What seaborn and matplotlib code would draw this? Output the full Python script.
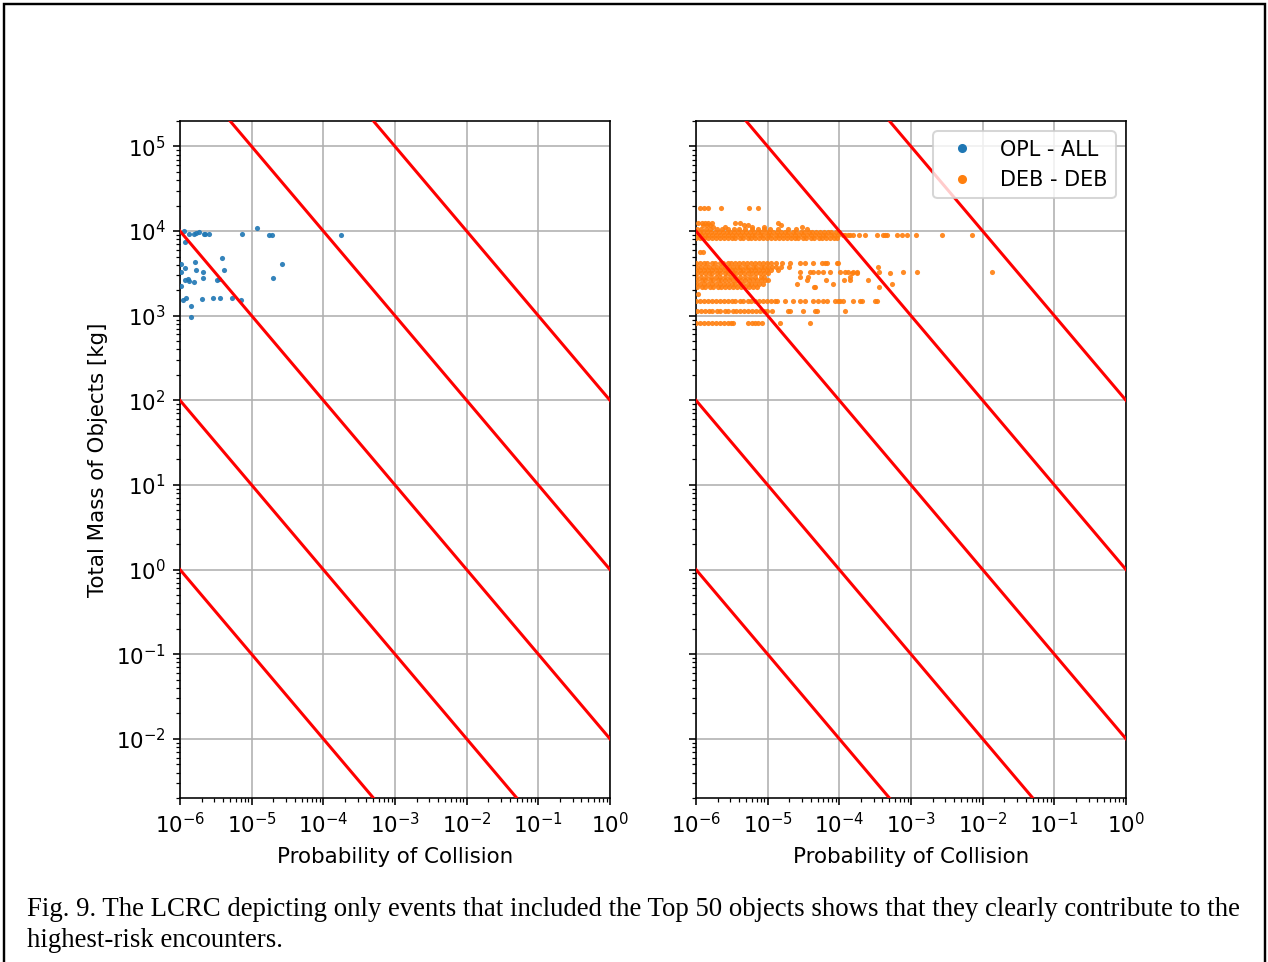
import matplotlib
matplotlib.use("Agg")
import numpy as np
import pandas as pd
import matplotlib.pyplot as plt
import seaborn as sns
from matplotlib.lines import Line2D
from matplotlib.patches import Rectangle

# ---------------- data (log10 values) ----------------
# OPL - ALL : log10 probability of collision / log10 total mass [kg]
opl_log_p = [-4.92, -5.95, -5.88, -5.81, -5.78, -5.74, -5.66, -5.65, -5.59, -5.13,
             -4.76, -4.72, -3.76, -5.93, -5.98, -5.79, -5.41, -4.57, -5.98, -5.93,
             -5.77, -5.68, -5.38, -5.68, -4.70, -5.93, -5.89, -5.87, -5.81, -5.49,
             -5.46, -5.98, -5.96, -5.91, -5.70, -5.54, -5.44, -5.27, -5.15, -5.85, -5.85]
opl_log_m = [4.04, 4.00, 3.97, 3.97, 3.98, 3.99, 3.97, 3.97, 3.96, 3.97,
             3.95, 3.95, 3.95, 3.87, 3.61, 3.63, 3.68, 3.61, 3.52, 3.56,
             3.54, 3.52, 3.54, 3.45, 3.44, 3.42, 3.43, 3.41, 3.40, 3.42,
             3.43, 3.35, 3.19, 3.21, 3.20, 3.21, 3.21, 3.21, 3.19, 3.11, 2.99]

# DEB - DEB : events come in mass rows; each row is one log10 mass level
deb_row_log_m = [4.27, 4.10, 4.07, 4.05, 4.02, 3.99, 3.95, 3.92, 3.75,
                 3.62, 3.58, 3.54, 3.52, 3.50, 3.46, 3.42, 3.38, 3.34, 3.26,
                 3.17, 3.05, 2.91]
deb_row_log_p = [
    [-5.94, -5.89, -5.83, -5.65, -5.26, -5.14],
    [-5.97, -5.92, -5.87, -5.83, -5.78, -5.46, -5.39, -4.86],
    [-5.90, -5.85, -5.81, -5.33, -5.27, -4.81],
    [-5.76, -5.60, -5.22, -5.05, -4.52],
    [-5.99, -5.93, -5.86, -5.80, -5.71, -5.64, -5.55, -5.47, -5.40, -5.31, -5.22, -5.13,
     -5.05, -4.97, -4.85, -4.72, -4.60, -4.45],
    [-6.00, -5.95, -5.90, -5.84, -5.79, -5.74, -5.68, -5.63, -5.57, -5.52, -5.47, -5.41,
     -5.36, -5.30, -5.25, -5.19, -5.14, -5.09, -5.03, -4.98, -4.92, -4.87, -4.81, -4.76,
     -4.71, -4.65, -4.60, -4.54, -4.49, -4.43, -4.38, -4.33, -4.27, -4.22, -4.16, -4.11,
     -4.05, -4.00],
    [-5.99, -5.93, -5.88, -5.83, -5.77, -5.72, -5.66, -5.61, -5.55, -5.50, -5.44, -5.39,
     -5.33, -5.28, -5.22, -5.17, -5.11, -5.06, -5.00, -4.95, -4.89, -4.84, -4.78, -4.73,
     -4.67, -4.62, -4.56, -4.51, -4.45, -4.40, -4.34, -4.29, -4.23, -4.18, -4.12, -4.07,
     -4.02, -3.95, -3.92, -3.88, -3.85, -3.81, -3.73, -3.64, -3.48, -3.39, -3.36, -3.34,
     -3.20, -3.13, -3.06, -2.93, -2.57, -2.15],
    [-6.00, -5.94, -5.89, -5.83, -5.78, -5.72, -5.67, -5.61, -5.56, -5.50, -5.45, -5.39,
     -5.34, -5.28, -5.23, -5.17, -5.12, -5.06, -5.01, -4.95, -4.90, -4.84, -4.79, -4.73,
     -4.68, -4.62, -4.57, -4.51, -4.46, -4.40, -4.35, -4.29, -4.24, -4.18, -4.13, -4.07,
     -4.03],
    [-5.94, -5.90],
    [-6.00, -5.95, -5.89, -5.84, -5.78, -5.73, -5.67, -5.62, -5.56, -5.51, -5.45, -5.40,
     -5.34, -5.29, -5.23, -5.18, -5.12, -5.07, -5.01, -4.96, -4.88, -4.80, -4.69, -4.55,
     -4.48, -4.37, -4.24, -4.20, -4.17, -4.03, -4.02],
    [-5.98, -5.93, -5.87, -5.82, -5.76, -5.71, -5.65, -5.60, -5.54, -5.49, -5.43, -5.38,
     -5.32, -5.27, -5.21, -5.16, -5.10, -5.05, -4.99, -4.94, -4.88, -4.82, -4.70, -3.46],
    [-6.00, -5.94, -5.89, -5.83, -5.78, -5.72, -5.67, -5.61, -5.56, -5.50, -5.45, -5.39,
     -5.34, -5.28, -5.23, -5.17, -5.12, -5.06, -5.01, -4.95, -4.86],
    [-4.55, -4.41, -4.37, -4.30, -4.23, -4.13, -3.99, -3.92, -3.88, -3.81, -3.75, -3.45,
     -3.11, -2.92, -1.87],
    [-5.99, -5.93, -5.88, -5.82, -5.77, -5.71, -5.66, -5.60, -5.55, -5.49, -5.44, -5.38,
     -5.33, -5.27, -5.22, -5.16, -5.11, -5.05, -5.00, -3.82, -3.75, -3.29],
    [-6.00, -5.93, -5.86, -5.79, -5.72, -5.66, -5.59, -5.52, -5.45, -5.38, -5.31, -5.24,
     -5.17, -5.10, -5.05, -4.55, -4.44, -3.85],
    [-5.98, -5.92, -5.87, -5.81, -5.76, -5.70, -5.65, -5.59, -5.54, -5.48, -5.43, -5.37,
     -5.32, -5.26, -5.21, -5.15, -5.10, -5.04, -4.99, -4.45, -4.19, -3.94, -3.85, -3.60],
    [-6.00, -5.94, -5.89, -5.83, -5.78, -5.72, -5.67, -5.61, -5.56, -5.50, -5.45, -5.39,
     -5.34, -5.28, -5.23, -5.17, -5.12, -5.06, -4.59, -4.09, -3.27],
    [-5.98, -5.92, -5.87, -5.81, -5.76, -5.70, -5.65, -5.59, -5.54, -5.48, -5.43, -5.37,
     -5.32, -5.26, -5.21, -5.15, -4.34, -4.35, -3.45],
    [-5.97],
    [-6.00, -5.94, -5.89, -5.83, -5.78, -5.72, -5.67, -5.61, -5.56, -5.50, -5.45, -5.39,
     -5.34, -5.28, -5.23, -5.17, -5.12, -5.06, -5.01, -4.95, -4.90, -4.87, -4.76, -4.65,
     -4.55, -4.48, -4.37, -4.30, -4.23, -4.17, -4.06, -4.02, -3.99, -3.95, -3.81, -3.71,
     -3.68, -3.50, -3.48],
    [-5.99, -5.93, -5.88, -5.82, -5.77, -5.71, -5.66, -5.60, -5.55, -5.49, -5.44, -5.38,
     -5.33, -5.27, -5.22, -5.16, -5.11, -5.05, -5.01, -4.94, -4.72, -4.69, -4.51, -4.34,
     -4.31, -3.92],
    [-6.00, -5.94, -5.89, -5.83, -5.78, -5.72, -5.67, -5.61, -5.56, -5.51, -5.48, -5.27,
     -5.22, -5.18, -5.14, -5.08, -4.83, -4.41],
]

# risk iso-lines: probability x mass = constant [kg]
risk_levels = [1e-6, 1e-4, 1e-2, 1e0, 1e2]
risk_line_pc = [1e-8, 1e2]

series_labels = ["OPL - ALL", "DEB - DEB"]
series_colors = ["#1f77b4", "#ff7f0e"]
x_label = "Probability of Collision"
y_label = "Total Mass of Objects [kg]"
caption_lines = [
    "Fig. 9. The LCRC depicting only events that included the Top 50 objects shows that they clearly contribute to the",
    "highest-risk encounters.",
]

# ---------------- tables ----------------
opl_df = pd.DataFrame({"pc": 10.0 ** np.array(opl_log_p), "mass": 10.0 ** np.array(opl_log_m)})
deb_p, deb_m = [], []
for lm, row in zip(deb_row_log_m, deb_row_log_p):
    deb_p.extend(row)
    deb_m.extend([lm] * len(row))
deb_df = pd.DataFrame({"pc": 10.0 ** np.array(deb_p), "mass": 10.0 ** np.array(deb_m)})

# ---------------- figure ----------------
DPI = 145
plt.rcParams.update({"font.size": 10.6, "xtick.labelsize": 10.6,
                     "ytick.labelsize": 10.6, "axes.labelsize": 10.6})
fig, axes = plt.subplots(1, 2, sharey=True, figsize=(1268 / DPI, 962 / DPI), dpi=DPI)
fig.subplots_adjust(left=180 / 1268, right=1126 / 1268, bottom=1 - 798 / 962,
                    top=1 - 121 / 962, wspace=86 / 430)

for ax, df, color in zip(axes, [opl_df, deb_df], series_colors):
    ax.set_xscale("log")
    ax.set_yscale("log")
    ax.set_axisbelow(True)
    ax.grid(True, which="major", color="#b0b0b0", linewidth=0.8)
    sns.scatterplot(data=df, x="pc", y="mass", ax=ax, color=color, s=6.5,
                    linewidth=0, alpha=0.9, legend=False, zorder=3)
    for c in risk_levels:
        line_df = pd.DataFrame({"pc": risk_line_pc,
                                "mass": [c / p for p in risk_line_pc]})
        sns.lineplot(data=line_df, x="pc", y="mass", ax=ax, color="red",
                     linewidth=1.5, zorder=4, legend=False)
    ax.set_xlim(1e-6, 1e0)
    ax.set_ylim(2e-3, 2e5)
    ax.set_xlabel(x_label, labelpad=5)
    ax.set_ylabel("")

axes[0].set_ylabel(y_label)

handles = [Line2D([], [], marker="o", linestyle="", color=c, markersize=3.5)
           for c in series_colors]
axes[1].legend(handles, series_labels, loc="upper right", fontsize=10.3)

# caption + frame
for i, line in enumerate(caption_lines):
    fig.text(27 / 1268, 1 - (916 + 31 * i) / 962, line, family="Liberation Serif",
             fontsize=13.3, ha="left", va="baseline")
fig.add_artist(Rectangle((4 / 1268, -0.01), 1 - 7 / 1268, 1 - 4 / 962 + 0.01,
                         transform=fig.transFigure, fill=False, edgecolor="black",
                         linewidth=1.2))

fig.savefig("out.png", dpi=DPI)
